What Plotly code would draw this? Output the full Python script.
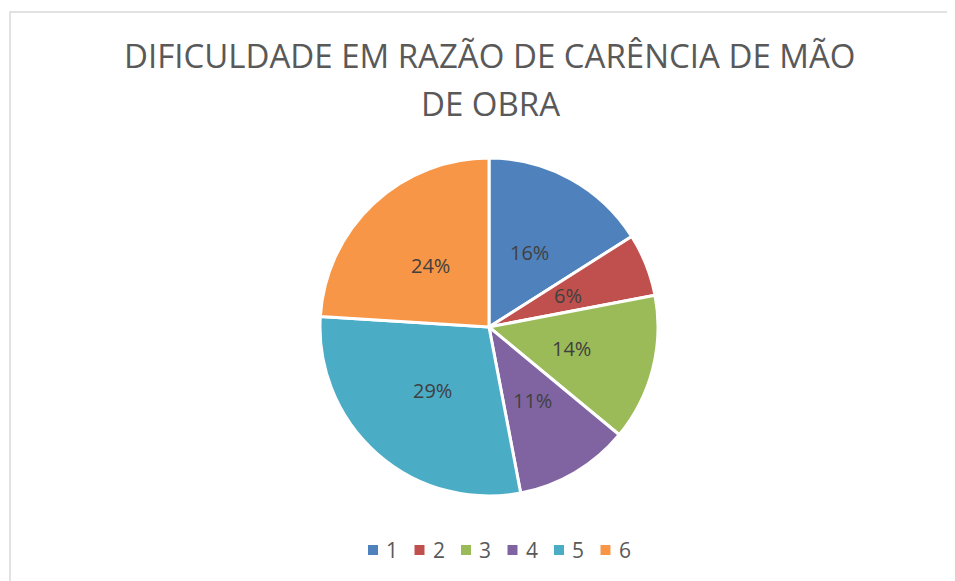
import math
import plotly.graph_objects as go

categories = ["1", "2", "3", "4", "5", "6"]
values = [16, 6, 14, 11, 29, 24]
colors = ["#4F81BD", "#C0504D", "#9BBB59", "#8064A2", "#4BACC6", "#F79646"]
title_lines = ["DIFICULDADE EM RAZÃO DE CARÊNCIA DE MÃO", "DE OBRA"]

W, H = 955, 581
ML, MR, MT, MB = 25, 18, 150, 93
PW, PH = W - ML - MR, H - MT - MB
R = min(PW, PH) / 2  # pie radius in px


def px_x(x):  # figure pixel -> paper x
    return (x - ML) / PW


def px_y(y):  # figure pixel (from top) -> paper y
    return 1 - (y - MT) / PH


fig = go.Figure(go.Pie(
    labels=categories,
    values=values,
    sort=False,
    direction="clockwise",
    rotation=0,
    marker=dict(colors=colors, line=dict(color="white", width=3)),
    textinfo="none",
    hoverinfo="label+percent",
    showlegend=False,
))

# data labels at half radius, at each slice's mid angle
total = sum(values)
annotations = []
cum = 0
for v in values:
    mid = (cum + v / 2) / total * 2 * math.pi
    cum += v
    dx = 0.503 * R * math.sin(mid)
    dy = 0.503 * R * math.cos(mid)
    annotations.append(dict(
        x=0.5 + dx / PW, y=0.5 + dy / PH, xref="paper", yref="paper",
        text=f"{round(v / total * 100)}%", showarrow=False,
        xanchor="center", yanchor="middle",
        font=dict(family="Open Sans", size=20, color="#404040"),
    ))

# two-line chart title
for line, ypos in zip(title_lines, [1.3018, 1.1627]):
    annotations.append(dict(
        x=0.5016, y=ypos, xref="paper", yref="paper",
        text=line, showarrow=False,
        xanchor="center", yanchor="middle",
        font=dict(family="Open Sans", size=33, color="#595959"),
    ))

# chart border
shapes = [dict(type="rect", xref="paper", yref="paper",
               x0=px_x(2), x1=1.2, y0=-0.5, y1=px_y(4),
               line=dict(color="#D9D9D9", width=1.5))]

# legend row below the pie
LEG_X0, LEG_STEP, LEG_Y, SQ = 360, 46.5, 542, 10
for i, (cat, col) in enumerate(zip(categories, colors)):
    x = LEG_X0 + i * LEG_STEP
    shapes.append(dict(type="rect", xref="paper", yref="paper",
                       x0=px_x(x), x1=px_x(x + SQ),
                       y0=px_y(LEG_Y + SQ / 2), y1=px_y(LEG_Y - SQ / 2),
                       fillcolor=col, line=dict(width=0)))
    annotations.append(dict(
        x=px_x(x + SQ + 6), y=px_y(LEG_Y), xref="paper", yref="paper",
        text=cat, showarrow=False, xanchor="left", yanchor="middle",
        font=dict(family="Open Sans", size=21, color="#595959"),
    ))

fig.update_layout(
    width=W, height=H,
    paper_bgcolor="white", plot_bgcolor="white",
    margin=dict(l=ML, r=MR, t=MT, b=MB),
    annotations=annotations,
    shapes=shapes,
    showlegend=False,
)

fig.write_html("out.html")
